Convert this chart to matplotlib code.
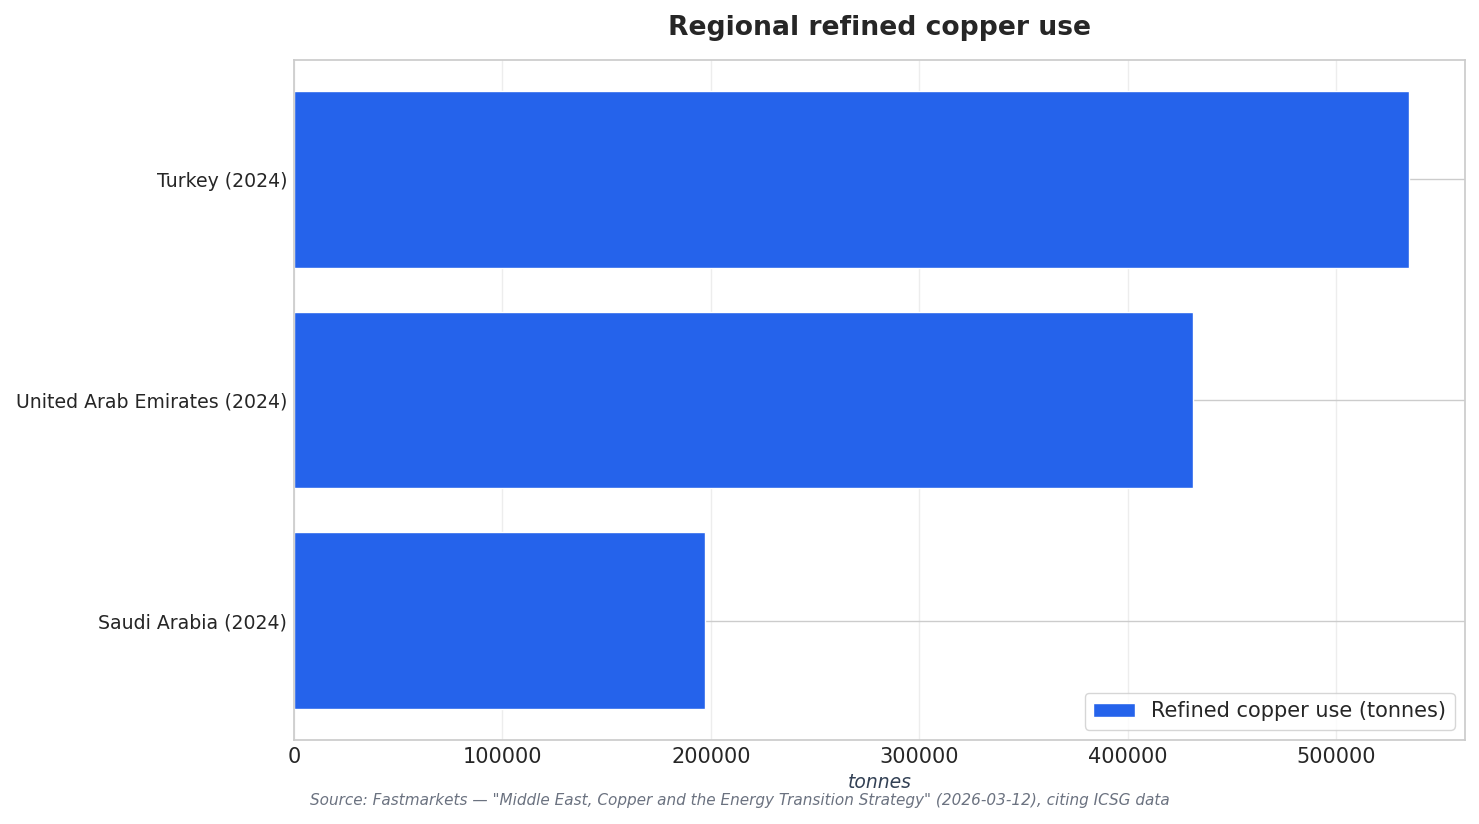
import matplotlib
matplotlib.use("Agg")
import matplotlib.pyplot as plt
import seaborn as sns

categories = ["Turkey (2024)", "United Arab Emirates (2024)", "Saudi Arabia (2024)"]
values = [535000, 431500, 197000]
series_name = "Refined copper use (tonnes)"
title = "Regional refined copper use"
xlabel = "tonnes"
source = 'Source: Fastmarkets — "Middle East, Copper and the Energy Transition Strategy" (2026-03-12), citing ICSG data'

sns.set_theme(style="whitegrid")
plt.rcParams['font.family'] = ['DejaVu Sans']

fig = plt.figure(figsize=(14.79, 8.24), dpi=100)
ax = fig.add_axes([294/1479, 1 - 740/824, (1465 - 294)/1479, (740 - 60)/824])

ypos = list(range(len(categories)))
ax.barh(ypos, values, height=0.8, color="#2563eb", label=series_name, zorder=2)
ax.set_yticks(ypos)
ax.set_yticklabels(categories)
ax.invert_yaxis()

ax.grid(axis="x", color="#cccccc", alpha=0.35, linewidth=1)
ax.grid(axis="y", color="#cccccc", linewidth=1)
ax.set_axisbelow(True)
for s in ax.spines.values():
    s.set_color("#cccccc")
    s.set_linewidth(1.25)

ax.tick_params(axis="y", labelsize=13.6, colors="#262626", length=0, pad=5)
ax.tick_params(axis="x", labelsize=15, colors="#262626", length=0, pad=5)
ax.set_title(title, fontsize=19.2, fontweight="bold", color="#262626", pad=18)
ax.set_xlabel(xlabel, fontsize=13.5, style="italic", color="#334155", labelpad=4)
ax.legend(loc="lower right", fontsize=15, frameon=True, edgecolor="#cccccc",
          handlelength=2, borderpad=0.4)
fig.text(0.5, 1 - 801/824, source, ha="center", va="center", fontsize=11,
         style="italic", color="#6b7280")

fig.savefig("out.png", dpi=100)
